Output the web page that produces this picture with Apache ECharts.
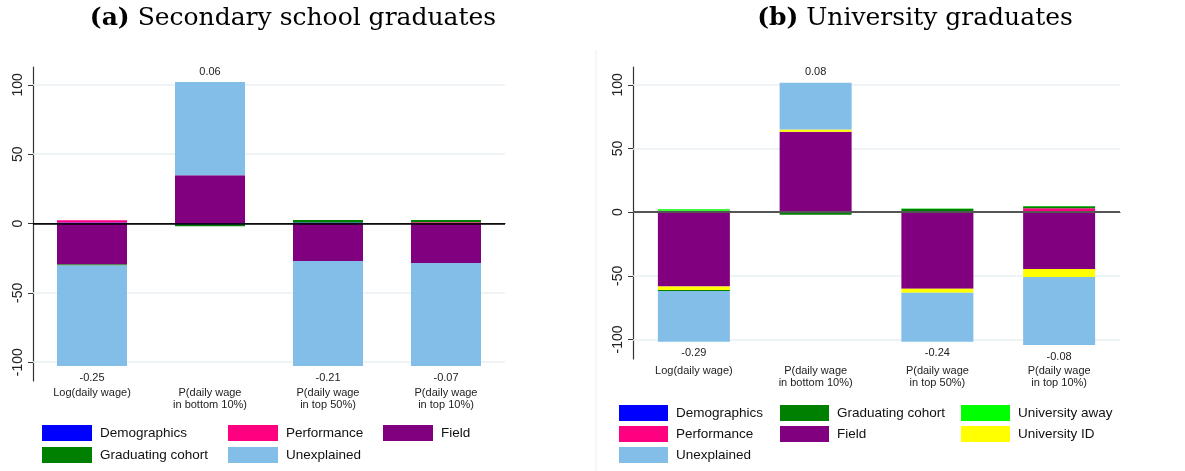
<!DOCTYPE html>
<html lang="en">
<head>
    <meta charset="UTF-8">
    <title>Decomposition</title>
    <style>
        html, body { margin: 0; padding: 0; background: #fff; }
        #main { width: 1185px; height: 471px; }
    </style>
    <script src="https://cdn.jsdelivr.net/npm/echarts@6/dist/echarts.min.js"></script>
</head>
<body>
<div id="main"></div>
<script>
    // categories (same for both panels)
    let categories = ['Log(daily wage)', 'P(daily wage\nin bottom 10%)', 'P(daily wage\nin top 50%)', 'P(daily wage\nin top 10%)'];
    let yTicks = [-100, -50, 0, 50, 100];

    // panel (a) secondary school graduates, % of gap
    let aDemographics = [0.8, -0.8, 0.8, 0];
    let aPerformance = [1.5, 0, 0, 1.0];
    let aField = [-29.5, 34.9, -27.0, -28.5];
    let aCohort = [-0.8, -1.2, 1.8, 1.5];
    let aUnexplained = [-72.5, 67.1, -75.8, -74.3];
    let aGaps = ['-0.25', '0.06', '-0.21', '-0.07'];

    // panel (b) university graduates, % of gap
    let bDemographics = [0.3, 0.3, 0.8, 0.3];
    let bPerformance = [0.8, 0.5, 0, 2.8];
    let bField = [-58.3, 62.4, -60.1, -44.7];
    let bUniID = [-2.8, 1.7, -3.2, -6.3];
    let bCohort = [-0.8, -2.1, 1.9, 1.5];
    let bAway = [1.2, 0, 0.2, 0.3];
    let bUnexplained = [-39.8, 36.8, -38.4, -53.3];
    let bGaps = ['-0.29', '0.08', '-0.24', '-0.08'];

    let colors = {
        'Demographics': '#0000ff',
        'Performance': '#ff0080',
        'Field': '#800080',
        'Graduating cohort': '#008000',
        'University away': '#00ff00',
        'University ID': '#ffff00',
        'Unexplained': '#83bee9'
    };

    let font = 'Liberation Sans, Arial, sans-serif';

    let chartDom = document.getElementById('main');
    let myChart = echarts.init(chartDom);

    function barSeries(name, data, idx, width, gaps) {
        let s = {
            name: name,
            type: 'bar',
            stack: 'p' + idx,
            xAxisIndex: idx,
            yAxisIndex: idx,
            barWidth: width,
            z: 3,
            itemStyle: { color: colors[name] },
            data: data
        };
        if (gaps) {
            s.data = data.map(function (v, i) {
                return {
                    value: v,
                    label: {
                        show: true,
                        position: v < 0 ? 'bottom' : 'top',
                        distance: v < 0 ? 6 : 5,
                        formatter: gaps[i],
                        fontSize: 11,
                        fontFamily: font,
                        color: '#222'
                    }
                };
            });
        }
        return s;
    }

    function refLines(idx, values, color, width, z) {
        return {
            type: 'line',
            xAxisIndex: idx,
            yAxisIndex: idx,
            data: [],
            z: z,
            silent: true,
            markLine: {
                silent: true,
                z: z,
                symbol: 'none',
                label: { show: false },
                lineStyle: { color: color, width: width, type: 'solid' },
                data: values.map(function (v) { return { yAxis: v }; })
            }
        };
    }

    let series = [
        refLines(0, [-100, -50, 50, 100], '#e8f0f2', 1.5, 1),
        barSeries('Demographics', aDemographics, 0, 70),
        barSeries('Performance', aPerformance, 0, 70),
        barSeries('Field', aField, 0, 70),
        barSeries('Graduating cohort', aCohort, 0, 70),
        barSeries('Unexplained', aUnexplained, 0, 70, aGaps),
        refLines(0, [0], '#000', 1.5, 10),

        refLines(1, [-100, -50, 50, 100], '#e8f0f2', 1.5, 1),
        barSeries('Demographics', bDemographics, 1, 72),
        barSeries('Performance', bPerformance, 1, 72),
        barSeries('Field', bField, 1, 72),
        barSeries('University ID', bUniID, 1, 72),
        barSeries('Graduating cohort', bCohort, 1, 72),
        barSeries('University away', bAway, 1, 72),
        barSeries('Unexplained', bUnexplained, 1, 72, bGaps),
        refLines(1, [0], '#555', 2, 10)
    ];

    function xAxis(idx) {
        return {
            type: 'category',
            gridIndex: idx,
            data: categories,
            axisLine: { lineStyle: { color: '#333', width: 1.2 } },
            axisTick: { show: false },
            axisLabel: { interval: 0, fontSize: 11, lineHeight: 12, margin: 6, color: '#222', fontFamily: font }
        };
    }

    function yAxis(idx, min, max) {
        return {
            type: 'value',
            gridIndex: idx,
            min: min,
            max: max,
            splitLine: { show: false },
            axisLine: { show: true, lineStyle: { color: '#333', width: 1.2 } },
            axisTick: { show: true, length: 5, customValues: yTicks, lineStyle: { color: '#333' } },
            axisLabel: { customValues: yTicks, rotate: 90, fontSize: 14, margin: 8, color: '#222', fontFamily: font }
        };
    }

    // legend layout: [name, left, top]
    let legendA = [
        ['Demographics', 42, 425], ['Performance', 228, 425], ['Field', 383, 425],
        ['Graduating cohort', 42, 447], ['Unexplained', 228, 447]
    ];
    let legendB = [
        ['Demographics', 619, 405], ['Graduating cohort', 780, 405], ['University away', 961, 405],
        ['Performance', 619, 426], ['Field', 780, 426], ['University ID', 961, 426],
        ['Unexplained', 619, 447]
    ];
    let legends = legendA.concat(legendB).map(function (l, i) {
        return {
            data: [l[0]],
            left: l[1],
            top: l[2],
            padding: 0,
            icon: 'rect',
            itemWidth: i < legendA.length ? 50 : 49,
            itemHeight: 16,
            selectedMode: false,
            textStyle: { fontSize: 13.5, color: '#111', fontFamily: font, padding: [0, 0, 0, 3] }
        };
    });

    let titleFont = '25px "DejaVu Serif", serif';

    let option = {
        animation: false,
        backgroundColor: '#fff',
        grid: [
            { left: 33, top: 67, width: 472, height: 314 },
            { left: 633, top: 67, width: 487, height: 292 }
        ],
        xAxis: [xAxis(0), xAxis(1)],
        yAxis: [yAxis(0, -113.6, 112.9), yAxis(1, -115.3, 114)],
        legend: legends,
        graphic: [
            {
                type: 'text', x: 293, y: 18,
                style: {
                    text: '{b|(a)} Secondary school graduates',
                    align: 'center', verticalAlign: 'middle',
                    font: titleFont, fill: '#000',
                    rich: { b: { fontWeight: 'bold', fontSize: 25, fontFamily: 'DejaVu Serif' } }
                }
            },
            {
                type: 'text', x: 915, y: 18,
                style: {
                    text: '{b|(b)} University graduates',
                    align: 'center', verticalAlign: 'middle',
                    font: titleFont, fill: '#000',
                    rich: { b: { fontWeight: 'bold', fontSize: 25, fontFamily: 'DejaVu Serif' } }
                }
            },
            {
                type: 'line', silent: true,
                shape: { x1: 596, y1: 50, x2: 596, y2: 471 },
                style: { stroke: '#eeeeee', lineWidth: 1 }
            }
        ],
        series: series
    };

    option && myChart.setOption(option);
</script>
</body>
</html>
